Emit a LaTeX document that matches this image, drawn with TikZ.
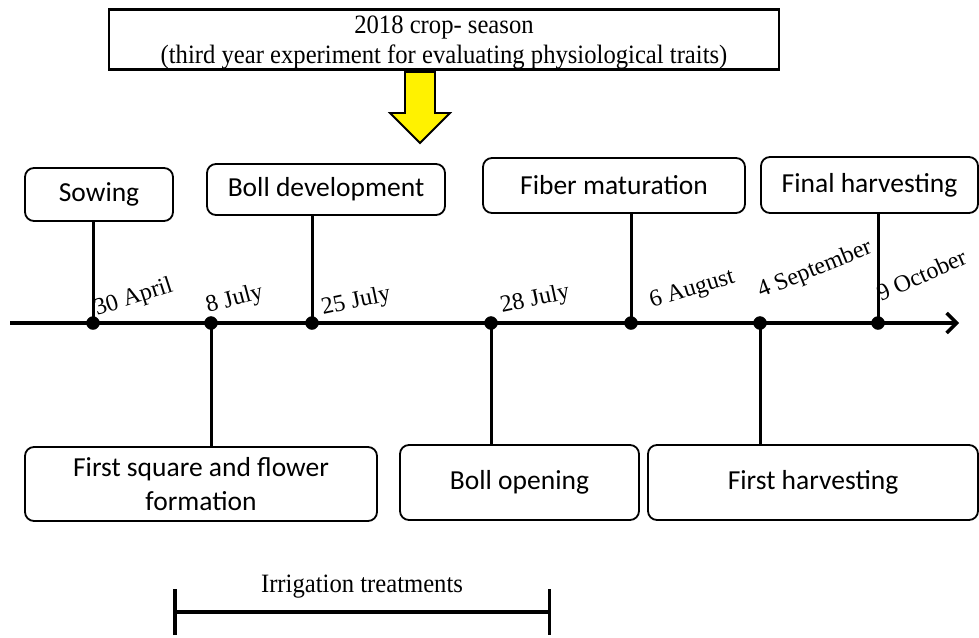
\documentclass[tikz,border=0pt]{standalone}
\usepackage{fontspec}
\setmainfont{Liberation Serif}
\newfontfamily\calib{Carlito}
\newfontfamily\narrowserif[FakeStretch=0.93]{Liberation Serif}
\usepackage{tikz}
\usetikzlibrary{calc,arrows.meta}

\begin{document}
\begin{tikzpicture}
    [%%%%%%%%%%%%%%%%%%%%%%%%%%%%%%
        x=1pt,y=-1pt,
        dot/.style={circle,draw=black,fill,inner sep=0pt,minimum size=13pt},
        stage/.style={draw=black,line width=1.8pt,rounded corners=9pt,inner sep=0pt,align=center,font=\calib\fontsize{27.5}{34}\selectfont},
        date/.style={anchor=base west,inner sep=0pt,font=\fontsize{24}{28}\selectfont},
        stem/.style={line width=3pt},
    ]%%%%%%%%%%%%%%%%%%%%%%%%%%%%%%

\useasboundingbox (0,0) rectangle (979,637);

% season box with the yellow arrow
\node[draw=black,line width=2.8pt,minimum width=670pt,minimum height=57pt,inner sep=0pt,align=center,font=\narrowserif\fontsize{26.5}{30}\selectfont] (season) at (444,39.5){\rule{0pt}{24pt}2018 crop- season\\(third year experiment for evaluating physiological traits)};
\filldraw[fill=yellow,draw=black,line width=1.8pt] (405,72) -- (435,72) -- (435,113) -- (450,113) -- (420,143) -- (390,113) -- (405,113) -- cycle;

% time axis
\coordinate (start) at (10,323);
\coordinate (end) at (959,323);
\draw[line width=3.5pt,-{Straight Barb[length=10pt,width=20pt]}] (start) -- (end);

\foreach \n/\x in {1/93,2/211,3/312,4/491,5/631,6/760,7/878}{
	\node[dot] (d\n) at (\x,323){};
}

\foreach \n/\dx/\dy/\a/\t in {1/4/-7/18/30 April,2/-3/-10/15/8 July,3/11/-8/12/25 July,4/11/-10/12/28 July,5/21/-15/17/6 August,6/1/-25/22/4 September,7/3/-21/24/9 October}{
	\node[date,rotate=\a] (l\n) at ($(d\n)+(\dx,\dy)$){\t};
}

% stages above the axis
\node[stage,minimum width=148pt,minimum height=53pt] (sowing) at (99,194.5){Sowing};
\node[stage,minimum width=238pt,minimum height=51pt] (bolldev) at (326,189.5){Boll development};
\node[stage,minimum width=262pt,minimum height=55pt] (fiber) at (614,185.5){Fiber maturation};
\node[stage,minimum width=217pt,minimum height=56pt] (final) at (869.5,185){Final harvesting};

% stages below the axis
\node[stage,minimum width=352pt,minimum height=74pt] (square) at (201,484){First square and flower\\formation};
\node[stage,minimum width=239pt,minimum height=75pt] (bollopen) at (519.5,482.5){Boll opening};
\node[stage,minimum width=330pt,minimum height=75pt] (firsth) at (813,482.5){First harvesting};

\draw[stem] (d1.center) -- (d1 |- sowing.south);
\draw[stem] (d3.center) -- (d3 |- bolldev.south);
\draw[stem] (d5.center) -- (d5 |- fiber.south);
\draw[stem] (d7.center) -- (d7 |- final.south);
\draw[stem] (d2.center) -- (d2 |- square.north);
\draw[stem] (d4.center) -- (d4 |- bollopen.north);
\draw[stem] (d6.center) -- (d6 |- firsth.north);

% irrigation period
\coordinate (irrL) at (173,612);
\coordinate (irrR) at (551,612);
\draw[line width=3.5pt,{Bar[width=46pt]}-{Bar[width=46pt]}] (irrL) -- (irrR);
\node[font=\narrowserif\fontsize{26.5}{30}\selectfont] (irr) at (362,587){Irrigation treatments};
%\draw[thick] (irrL) -- (irrR);

\end{tikzpicture}
\end{document}
